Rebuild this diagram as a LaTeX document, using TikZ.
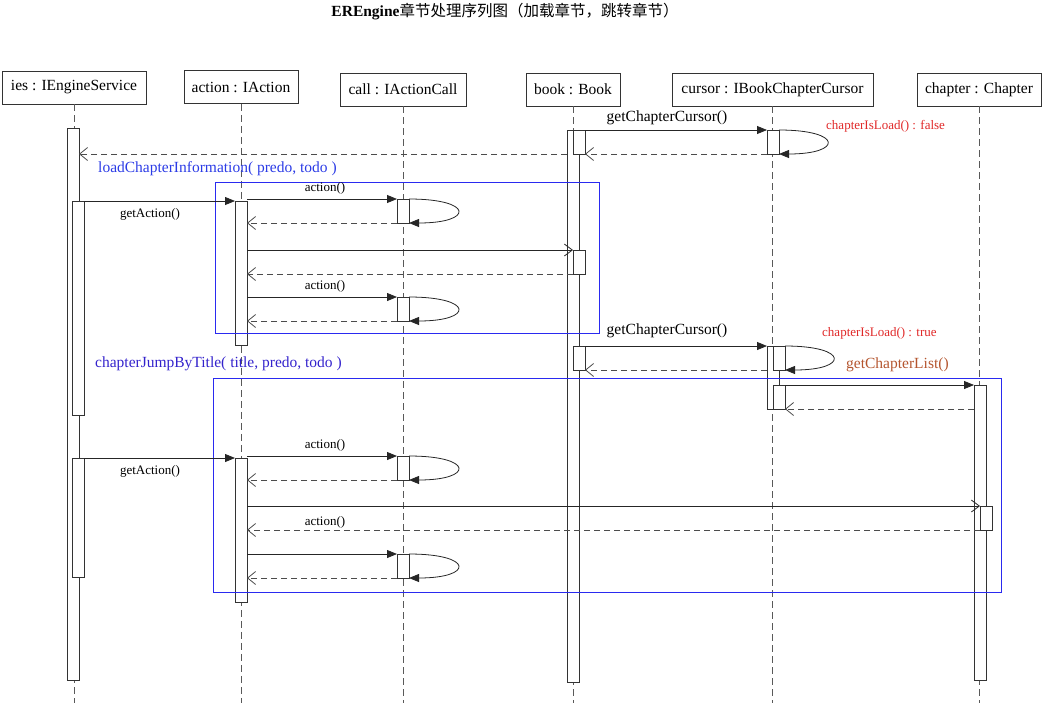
\documentclass[tikz,border=0pt]{standalone}
\usepackage{fontspec}
\setmainfont{Liberation Serif}
\newfontfamily\cjk{Noto Sans CJK SC}
\usetikzlibrary{arrows.meta}
\definecolor{boxblue}{HTML}{2A2AF0}
\definecolor{lblblue}{HTML}{2B3BE6}
\definecolor{lblpurple}{HTML}{3322CC}
\definecolor{lblred}{HTML}{E02828}
\definecolor{lblbrown}{HTML}{B4552E}
\begin{document}
\begin{tikzpicture}[x=1pt,y=-1pt,
 obj/.style={draw=black!80,line width=0.9pt,minimum height=33pt,inner sep=0pt,font=\fontsize{15.5}{18}\selectfont},
 life/.style={draw=black!65,line width=0.9pt,dash pattern=on 7pt off 4pt},
 act/.style={draw=black!80,fill=white,line width=0.8pt,minimum width=12pt,inner sep=0pt,outer sep=0pt,anchor=north west},
 msg/.style={draw=black!85,line width=0.8pt,-{Triangle[length=10pt,width=8pt]}},
 callmsg/.style={draw=black!85,line width=0.8pt,-{Straight Barb[length=8pt,width=12pt]}},
 ret/.style={draw=black!70,line width=0.9pt,dash pattern=on 6pt off 4pt,-{Straight Barb[length=8pt,width=13pt,line width=0.8pt]}},
 lbl/.style={font=\fontsize{15.5}{18}\selectfont,inner sep=0pt},
 small/.style={font=\fontsize{13}{15}\selectfont,inner sep=0pt},
 frame/.style={draw=boxblue,line width=0.9pt}]
\useasboundingbox (0,0) rectangle (1044,705);

% title
\node[inner sep=0pt,font=\fontsize{15.5}{18}\selectfont] (title) at (505,12) {\textbf{EREngine}{\cjk 章节处理序列图（加载章节，跳转章节）}};

% objects
\node[obj,minimum width=144pt] (ies) at (74,87.5) {ies : IEngineService};
\node[obj,minimum width=114pt] (action) at (241,87) {action : IAction};
\node[obj,minimum width=126pt] (call) at (403,89.5) {call : IActionCall};
\node[obj,minimum width=94pt] (book) at (573,89.5) {book : Book};
\node[obj,minimum width=201pt] (cursor) at (772.5,89.5) {cursor : IBookChapterCursor};
\node[obj,minimum width=124pt] (chapter) at (979,89.5) {chapter : Chapter};

% lifelines
\coordinate (bottom) at (0,703);
\foreach \o in {ies,action,call,book,cursor,chapter}
  \draw[life] (\o.south) -- (\o.south |- bottom);

% activations
\node[act,minimum height=552pt] (iesA) at (67,128) {};
\node[act,minimum height=214pt] (iesB) at (72,201) {};
\node[act,minimum height=119pt] (iesC) at (72,458) {};
\node[act,minimum height=144pt] (actA) at (235,201) {};
\node[act,minimum height=144pt] (actB) at (235,458) {};
\node[act,minimum height=24pt] (callA) at (397,199) {};
\node[act,minimum height=24pt] (callB) at (397,297) {};
\node[act,minimum height=24pt] (callC) at (397,456) {};
\node[act,minimum height=24pt] (callD) at (397,554) {};
\node[act,minimum height=552pt] (bookA) at (567,130) {};
\node[act,minimum height=24pt] (bookB) at (573,130) {};
\node[act,minimum height=24pt] (bookC) at (573,250) {};
\node[act,minimum height=24pt] (bookD) at (573,346) {};
\node[act,minimum height=24pt] (curA) at (767,130) {};
\node[act,minimum height=63pt] (curB) at (767,346) {};
\node[act,minimum height=24pt] (curC) at (773,346) {};
\node[act,minimum height=24pt] (curD) at (773,385) {};
\node[act,minimum height=295pt] (chA) at (974,385) {};
\node[act,minimum height=24pt] (chB) at (980,506) {};

% frames
\draw[frame] (215,182) rectangle (599,333);
\draw[frame] (213,378) rectangle (1001,592);

% getChapterCursor (1)
\draw[msg] (bookB.north east) -- (curA.north west);
\node[lbl] (gcc1) at (667,118) {getChapterCursor()};
\draw[msg] (curA.north east) .. controls +(64,0) and +(64,0) .. (curA.south east);
\node[small,anchor=west,text=lblred] (isload1) at (826,126) {chapterIsLoad() : false};
\draw[ret] (curA.south west) -- (bookB.south east);
\draw[ret] (bookB.south -| bookA.west) -- (bookB.south -| iesA.east);

\node[lbl,anchor=west,text=lblblue] (load) at (98,169) {loadChapterInformation( predo, todo )};

% getAction (1)
\draw[msg] (iesB.north east) -- (actA.north west);
\node[small] (ga1) at (150,214) {getAction()};
\draw[msg] (callA.north -| actA.east) -- (callA.north west) node[small,pos=0.52,above=4pt] {action()};
\draw[msg] (callA.north east) .. controls +(65,0) and +(65,0) .. (callA.south east);
\draw[ret] (callA.south west) -- (callA.south -| actA.east);
\draw[callmsg] (bookC.north -| actA.east) -- (bookC.north west);
\draw[ret] (bookC.south west) -- (bookC.south -| actA.east);
\draw[msg] (callB.north -| actA.east) -- (callB.north west) node[small,pos=0.52,above=4pt] {action()};
\draw[msg] (callB.north east) .. controls +(65,0) and +(65,0) .. (callB.south east);
\draw[ret] (callB.south west) -- (callB.south -| actA.east);

% getChapterCursor (2)
\draw[msg] (bookD.north east) -- (curB.north west);
\node[lbl] (gcc2) at (667,331) {getChapterCursor()};
\draw[msg] (curC.north east) .. controls +(64,0) and +(64,0) .. (curC.south east);
\node[small,anchor=west,text=lblred] (isload2) at (822,333) {chapterIsLoad() : true};
\draw[ret] (curC.south -| curB.west) -- (bookD.south east);
\node[lbl,anchor=west,text=lblbrown] (gcl) at (846,365) {getChapterList()};
\draw[msg] (curD.north east) -- (chA.north west);
\draw[ret] (curD.south -| chA.west) -- (curD.south east);

\node[lbl,anchor=west,text=lblpurple] (jump) at (95,364) {chapterJumpByTitle( title, predo, todo )};

% getAction (2)
\draw[msg] (iesC.north east) -- (actB.north west);
\node[small] (ga2) at (150,471) {getAction()};
\draw[msg] (callC.north -| actB.east) -- (callC.north west) node[small,pos=0.52,above=4pt] {action()};
\draw[msg] (callC.north east) .. controls +(65,0) and +(65,0) .. (callC.south east);
\draw[ret] (callC.south west) -- (callC.south -| actB.east);
\draw[callmsg] (chB.north -| actB.east) -- (chB.north west);
\draw[ret] (chB.south west) -- (chB.south -| actB.east);
\node[small] (act5) at (325,522) {action()};
\draw[msg] (callD.north -| actB.east) -- (callD.north west);
\draw[msg] (callD.north east) .. controls +(65,0) and +(65,0) .. (callD.south east);
\draw[ret] (callD.south west) -- (callD.south -| actB.east);
\end{tikzpicture}
\end{document}
